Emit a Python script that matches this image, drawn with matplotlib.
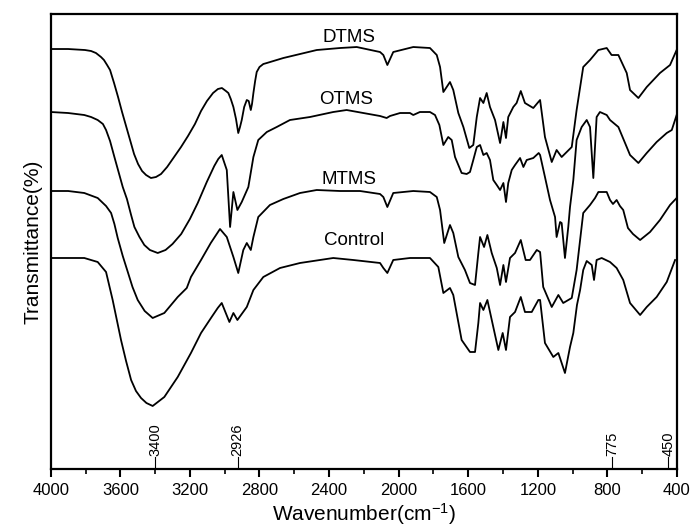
import matplotlib
matplotlib.use("Agg")
import matplotlib.pyplot as plt

plt.rcParams["font.family"] = ["Liberation Sans", "DejaVu Sans"]
plt.rcParams["mathtext.fontset"] = "custom"
plt.rcParams["mathtext.rm"] = "Liberation Sans"
plt.rcParams["mathtext.it"] = "Liberation Sans"

# FTIR spectra (wavenumber in cm-1, transmittance in arbitrary offset units)
dtms_wn = [4000, 3900, 3803, 3768, 3740, 3711, 3694, 3676, 3659, 3636, 3613, 3590,
           3567, 3544, 3521, 3498, 3475, 3452, 3424, 3395, 3366, 3331, 3291, 3251,
           3211, 3171, 3136, 3102, 3067, 3039, 3016, 2993, 2979, 2965, 2950, 2935,
           2922, 2912, 2902, 2888, 2873, 2862, 2850, 2843, 2835, 2825, 2816, 2800,
           2778, 2758, 2720, 2663, 2567, 2471, 2337, 2241, 2107, 2088, 2065, 2031,
           1916, 1820, 1781, 1762, 1743, 1705, 1686, 1657, 1628, 1594, 1571, 1551,
           1532, 1513, 1494, 1475, 1446, 1417, 1398, 1383, 1370, 1341, 1322, 1298,
           1274, 1226, 1197, 1187, 1159, 1120, 1092, 1063, 1005, 977, 939, 900,
           852, 804, 776, 737, 689, 670, 622, 574, 498, 440, 402]
dtms_t = [420, 420, 419, 418, 416, 412, 409, 404, 399, 386, 372, 357,
          343, 329, 315, 305, 298, 294, 291, 292, 295, 302, 312, 322,
          333, 345, 358, 368, 376, 380, 381, 378, 376, 370, 362, 350,
          336, 342, 349, 362, 369, 368, 359, 365, 376, 388, 397, 402,
          405, 406, 408, 411, 415, 419, 421, 422, 417, 414, 404, 417,
          422, 421, 414, 402, 377, 387, 379, 356, 342, 321, 324, 352,
          371, 366, 376, 362, 349, 326, 347, 331, 352, 362, 366, 378,
          366, 361, 367, 369, 332, 307, 319, 312, 322, 359, 402, 409,
          419, 421, 414, 414, 396, 379, 371, 382, 396, 404, 419]

otms_wn = [4000, 3900, 3807, 3768, 3730, 3700, 3682, 3659, 3634, 3610, 3586, 3562,
           3538, 3519, 3490, 3462, 3430, 3385, 3340, 3300, 3250, 3200, 3155, 3103,
           3060, 3037, 3017, 2988, 2969, 2950, 2927, 2902, 2864, 2835, 2807, 2758,
           2701, 2625, 2510, 2376, 2299, 2107, 2069, 2050, 1992, 1935, 1916, 1878,
           1820, 1791, 1766, 1743, 1715, 1695, 1676, 1638, 1609, 1590, 1571, 1551,
           1532, 1513, 1494, 1475, 1456, 1436, 1417, 1398, 1383, 1370, 1350, 1331,
           1302, 1283, 1264, 1226, 1195, 1187, 1159, 1130, 1101, 1092, 1072, 1063,
           1044, 1025, 1015, 996, 977, 948, 919, 900, 881, 862, 843, 804, 785,
           737, 689, 670, 622, 574, 517, 459, 430, 402]
otms_t = [357, 356, 354, 352, 349, 345, 339, 328, 312, 297, 282, 270,
          254, 242, 232, 224, 219, 216, 219, 225, 235, 250, 266, 287,
          303, 310, 314, 299, 242, 277, 259, 267, 282, 312, 329, 337,
          342, 349, 352, 357, 359, 353, 351, 353, 356, 356, 354, 357,
          357, 354, 344, 324, 332, 329, 312, 296, 295, 297, 309, 322,
          324, 314, 316, 309, 289, 284, 279, 286, 267, 286, 299, 304,
          311, 302, 309, 311, 316, 314, 292, 269, 252, 232, 247, 246,
          211, 242, 262, 289, 329, 342, 349, 342, 291, 352, 357, 354, 349,
          342, 322, 314, 306, 316, 327, 336, 339, 354]

mtms_wn = [4000, 3900, 3807, 3730, 3682, 3653, 3634, 3615, 3586, 3557, 3530, 3500,
           3460, 3414, 3347, 3270, 3218, 3194, 3136, 3080, 3027, 2988, 2950, 2922,
           2893, 2873, 2850, 2835, 2807, 2740, 2663, 2567, 2471, 2337, 2222, 2107,
           2088, 2065, 2031, 1916, 1820, 1781, 1762, 1738, 1705, 1686, 1657, 1619,
           1590, 1561, 1542, 1532, 1509, 1490, 1465, 1436, 1417, 1398, 1383, 1360,
           1331, 1298, 1270, 1245, 1206, 1187, 1169, 1120, 1082, 1054, 1005, 977,
           957, 939, 900, 871, 852, 804, 785, 768, 747, 728, 709, 682, 653, 612,
           555, 498, 440, 402]
mtms_t = [278, 278, 276, 271, 263, 256, 245, 231, 213, 197, 182, 169,
          158, 151, 156, 172, 181, 192, 209, 226, 240, 232, 212, 196,
          219, 226, 219, 232, 252, 264, 270, 276, 279, 278, 278, 275,
          272, 262, 276, 278, 277, 272, 259, 226, 244, 236, 212, 199,
          186, 184, 216, 232, 222, 234, 216, 201, 184, 204, 187, 211,
          216, 229, 209, 209, 219, 217, 182, 162, 174, 166, 171, 199,
          229, 256, 264, 271, 277, 277, 269, 265, 269, 263, 259, 241, 235, 229,
          237, 249, 264, 271]

control_wn = [4000, 3900, 3807, 3730, 3682, 3644, 3620, 3596, 3567, 3538, 3510, 3481,
              3450, 3414, 3347, 3270, 3194, 3136, 3075, 3040, 3017, 2973, 2950, 2927,
              2873, 2835, 2778, 2682, 2567, 2376, 2261, 2107, 2088, 2065, 2031, 1935,
              1820, 1772, 1743, 1705, 1686, 1638, 1590, 1561, 1542, 1532, 1513, 1490,
              1456, 1427, 1402, 1383, 1360, 1331, 1298, 1274, 1235, 1197, 1187, 1159,
              1111, 1082, 1044, 1015, 996, 975, 957, 939, 919, 890, 877, 862, 833,
              785, 747, 709, 670, 612, 574, 517, 459, 411]
control_t = [211, 211, 211, 207, 197, 169, 149, 129, 108, 89, 78, 71,
             66, 63, 72, 92, 116, 136, 152, 161, 166, 147, 156, 149,
             162, 179, 192, 201, 206, 211, 209, 206, 201, 196, 209, 211,
             211, 202, 176, 181, 174, 129, 117, 117, 146, 166, 159, 169,
             142, 119, 136, 119, 152, 157, 172, 157, 157, 169, 169, 126,
             112, 116, 96, 122, 136, 164, 179, 199, 208, 204, 189, 209, 211,
             207, 201, 189, 166, 154, 162, 172, 187, 209]

labels = ["DTMS", "OTMS", "MTMS", "Control"]
label_wn = [2285, 2300, 2285, 2255]
label_t = [432, 370, 290, 228]

marked_wn = [3400, 2926, 775, 450]

fig = plt.figure(figsize=(6.94, 5.31), dpi=100)
ax = fig.add_axes([0.0731, 0.1168, 0.9024, 0.8568])

for wn, t in [(dtms_wn, dtms_t), (otms_wn, otms_t), (mtms_wn, mtms_t), (control_wn, control_t)]:
    ax.plot(wn, t, color="black", lw=1.3, solid_joinstyle="round")

for name, x, y in zip(labels, label_wn, label_t):
    ax.text(x, y, name, ha="center", va="center", fontsize=13.5)

for m in marked_wn:
    ax.plot([m, m], [0, 12], color="black", lw=0.8)
    ax.text(m, 13, str(m), rotation=90, ha="center", va="bottom", fontsize=10.5)

ax.set_xlim(4000, 400)
ax.set_ylim(0, 455)
ax.set_xticks([4000, 3600, 3200, 2800, 2400, 2000, 1600, 1200, 800, 400])
ax.set_xticks(range(3800, 400, -400), minor=True)
ax.set_yticks([])
ax.tick_params(axis="x", which="major", direction="out", length=6, width=1.5,
               labelsize=12, pad=4)
ax.tick_params(axis="x", which="minor", direction="out", length=3.5, width=1.2)
for s in ax.spines.values():
    s.set_linewidth(1.6)

ax.set_xlabel("Wavenumber(cm$^{-1}$)", fontsize=15, labelpad=2)
ax.set_ylabel("Transmittance(%)", fontsize=15, labelpad=6)

fig.savefig("out.png", dpi=100)
